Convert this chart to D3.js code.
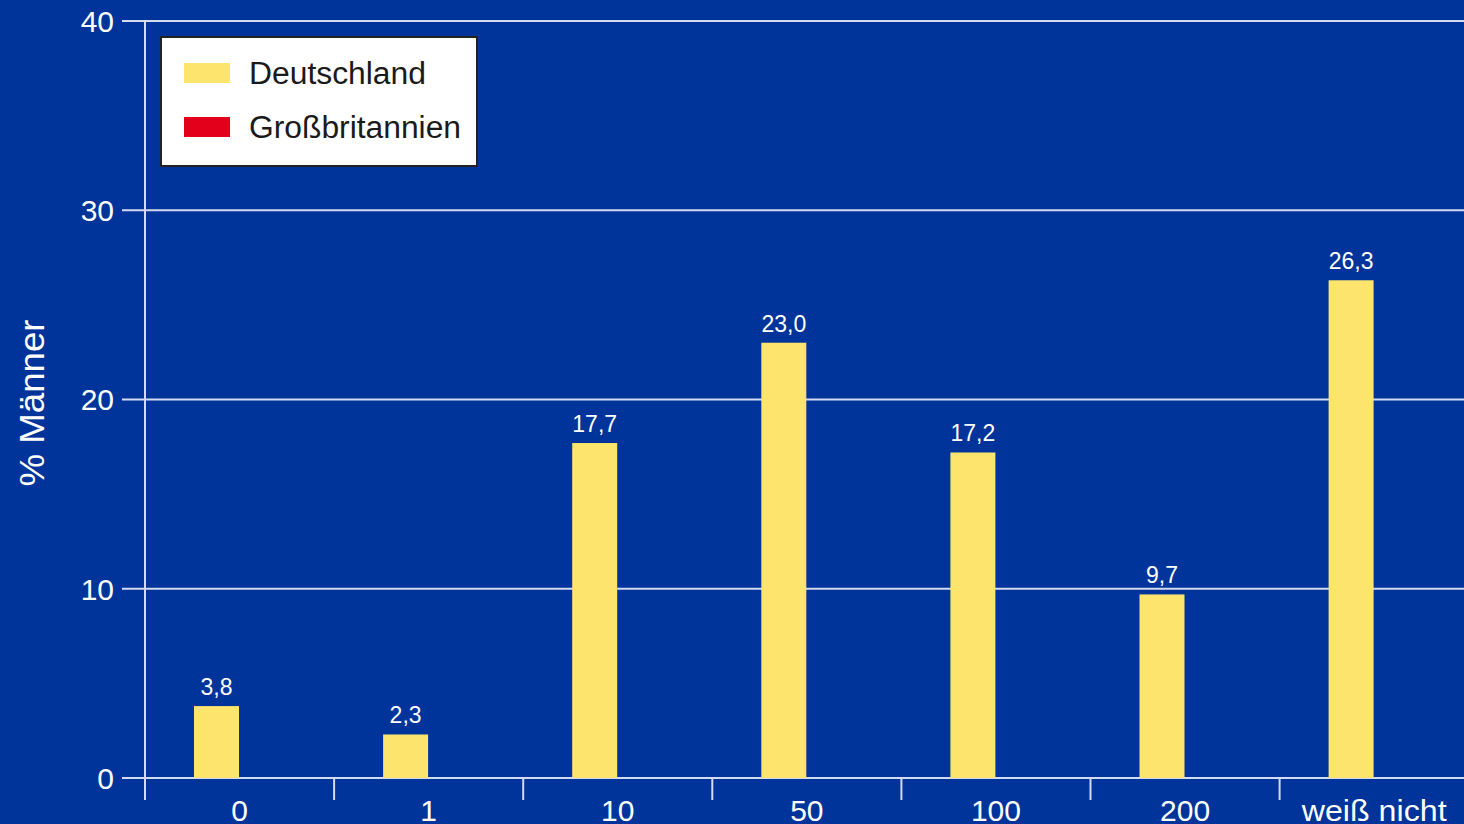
<!DOCTYPE html>
<html><head><meta charset="utf-8">
<script src="https://cdn.jsdelivr.net/npm/d3@7"></script>
<style>html,body{margin:0;padding:0;background:#00349a;overflow:hidden}</style>
</head><body>
<svg id="c" width="1464" height="824"></svg>
<script>
const categories = ["0","1","10","50","100","200","weiß nicht"];
const series = ["Deutschland","Großbritannien"];
const deutschland = [3.8, 2.3, 17.7, 23.0, 17.2, 9.7, 26.3];
const grossbritannien = [null, null, null, null, null, null, null];
const yTicks = [0,10,20,30,40];
const colors = ["#fde46c","#e2001a"];

const svg = d3.select("#c");
const W = 1464, H = 824;
const x0 = 145, x1 = 145 + 189.1*7, yTop = 21, yBot = 778;
const FONT = "Liberation Sans, Arial, sans-serif";
svg.append("rect").attr("width",W).attr("height",H).attr("fill","#00349a");

const x = d3.scaleBand().domain(categories).range([x0,x1]).paddingInner(0).paddingOuter(0);
const y = d3.scaleLinear().domain([0,40]).range([yBot,yTop]);

const lineCol = "#d4daf2";
svg.append("g").selectAll("line").data(yTicks).join("line")
  .attr("x1",122).attr("x2",W).attr("y1",d=>y(d)).attr("y2",d=>y(d))
  .attr("stroke",lineCol).attr("stroke-width",2);
svg.append("g").selectAll("text").data(yTicks).join("text")
  .attr("x",114).attr("y",d=>y(d)).attr("dy","0.36em").attr("text-anchor","end")
  .attr("fill","#fff").attr("font-family",FONT).attr("font-size",30)
  .text(d=>d);
svg.append("line").attr("x1",x0).attr("x2",x0).attr("y1",yTop).attr("y2",800)
  .attr("stroke",lineCol).attr("stroke-width",2);
const tickXs = categories.map(c=>x(c)).slice(1).concat([x1]);
svg.append("g").selectAll("line").data(tickXs).join("line")
  .attr("x1",d=>d).attr("x2",d=>d).attr("y1",yBot).attr("y2",800)
  .attr("stroke",lineCol).attr("stroke-width",2);
svg.append("g").selectAll("text").data(categories).join("text")
  .attr("x",d=>x(d)+x.bandwidth()/2).attr("y",821).attr("text-anchor","middle")
  .attr("fill","#fff").attr("font-family",FONT).attr("font-size",30)
  .attr("textLength",d=>d==="weiß nicht"?145:null)
  .attr("lengthAdjust","spacingAndGlyphs")
  .text(d=>d);

const bw = 45;
const barX = (c,i)=> x(c) + 49 + i*bw;
svg.append("g").selectAll("rect").data(deutschland).join("rect")
  .attr("x",(d,i)=>barX(categories[i],0)).attr("width",bw)
  .attr("y",d=>y(d)).attr("height",d=>yBot-y(d)).attr("fill",colors[0]);
svg.append("g").selectAll("text").data(deutschland).join("text")
  .attr("x",(d,i)=>barX(categories[i],0)+bw/2).attr("y",d=>y(d)-11).attr("text-anchor","middle")
  .attr("fill","#fff").attr("font-family",FONT).attr("font-size",23)
  .text(d=>d.toFixed(1).replace(".",","));

svg.append("text").attr("transform","translate(44,403) rotate(-90)").attr("text-anchor","middle")
  .attr("fill","#fff").attr("font-family",FONT).attr("font-size",35)
  .attr("textLength",167).attr("lengthAdjust","spacingAndGlyphs")
  .text("% Männer");

const lg = svg.append("g");
lg.append("rect").attr("x",161).attr("y",37).attr("width",316).attr("height",129)
  .attr("fill","#fff").attr("stroke","#222").attr("stroke-width",2);
series.forEach((s,i)=>{
  const cy = 73 + i*54;
  lg.append("rect").attr("x",184).attr("y",cy-10).attr("width",46).attr("height",20).attr("fill",colors[i]);
  lg.append("text").attr("x",249).attr("y",cy).attr("dy","0.36em")
    .attr("fill","#1a1a1a").attr("font-family",FONT).attr("font-size",31)
    .attr("textLength",i===0?177:212).attr("lengthAdjust","spacingAndGlyphs")
    .text(s);
});
</script>
</body></html>
